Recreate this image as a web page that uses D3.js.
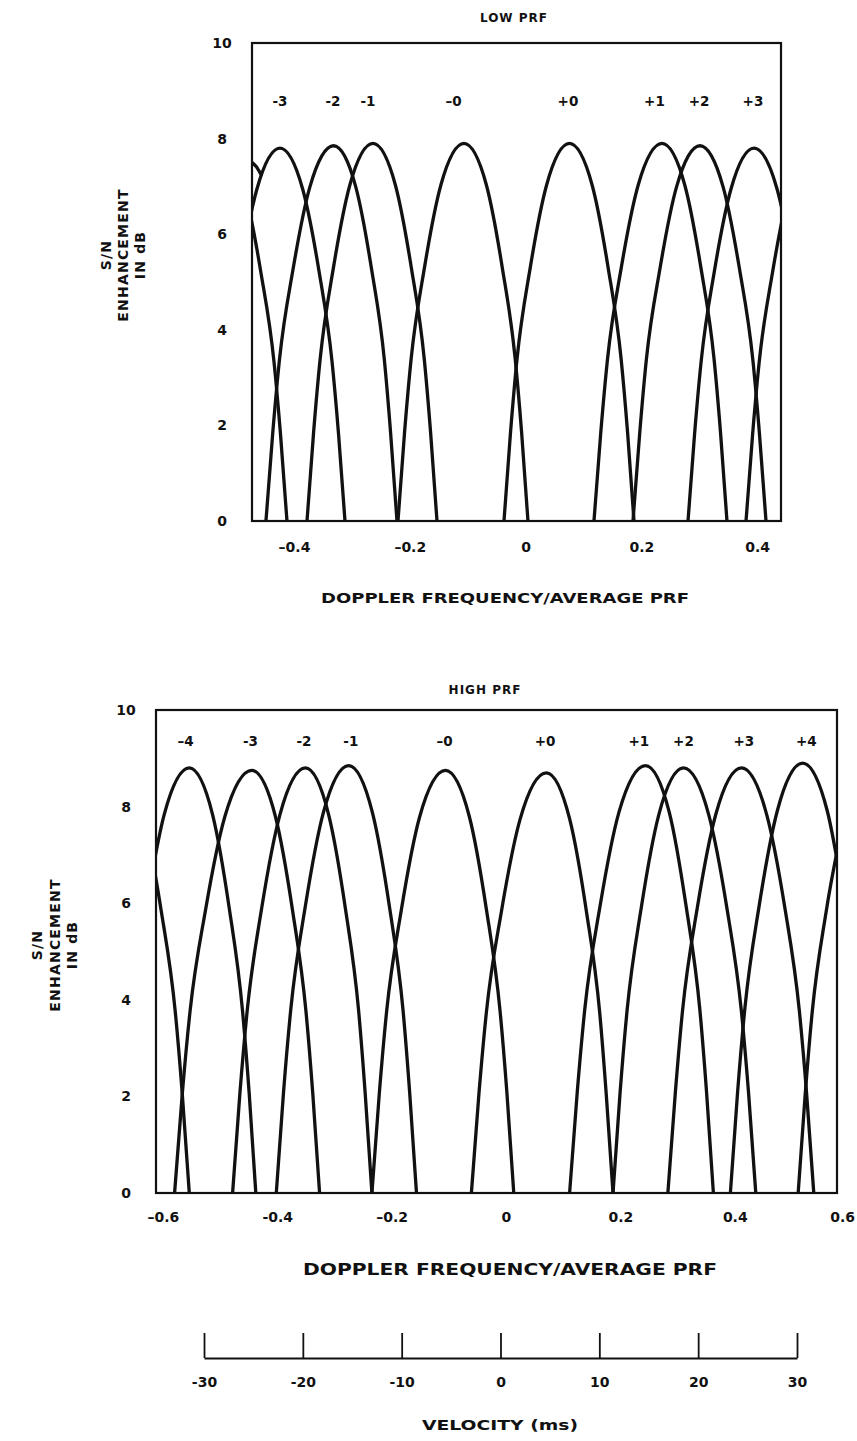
<!DOCTYPE html>
<html><head><meta charset="utf-8">
<script src="https://cdn.jsdelivr.net/npm/d3@7"></script>
<style>
html,body{margin:0;padding:0;background:#fff;}
svg{display:block;}
text{font-family:"DejaVu Sans","Liberation Sans",sans-serif;font-weight:bold;fill:#111;}
</style></head><body>
<svg id="chart" width="857" height="1441"></svg>
<script>
// ---------- DATA ----------
const yTicks = [0, 2, 4, 6, 8, 10];
const yTickLabels = ["0", "2", "4", "6", "8", "10"];

// LOW PRF panel
const lowXDomain = [-0.4725, 0.4411];
const lowTicks = [-0.4, -0.2, 0, 0.2, 0.4];
const lowTickLabels = ["\u20130.4", "\u20130.2", "0", "0.2", "0.4"];
const lowLobeNames = ["-3", "-2", "-1", "\u20130", "+0", "+1", "+2", "+3"];
const lowLobeLabelX = [-0.4242, -0.3326, -0.2722, -0.1245, 0.0732, 0.2226, 0.2995, 0.3927];
const lowLobeX = [
  [-0.5637, -0.5244, -0.4851, -0.4570, -0.4345, -0.4233, -0.4121],
  [-0.5154, -0.4926, -0.4641, -0.4242, -0.3849, -0.3568, -0.3344, -0.3231, -0.3119],
  [-0.4484, -0.4367, -0.4250, -0.4017, -0.3725, -0.3316, -0.2933, -0.2659, -0.2440, -0.2331, -0.2221],
  [-0.3775, -0.3661, -0.3547, -0.3320, -0.3035, -0.2636, -0.2249, -0.1972, -0.1751, -0.1641, -0.1530],
  [-0.2204, -0.2090, -0.1976, -0.1748, -0.1463, -0.1064, -0.0677, -0.0401, -0.0180, -0.0069, 0.0041],
  [-0.0373, -0.0260, -0.0147, 0.0079, 0.0363, 0.0758, 0.1149, 0.1427, 0.1649, 0.1761, 0.1872],
  [0.1181, 0.1299, 0.1416, 0.1651, 0.1945, 0.2356, 0.2749, 0.3029, 0.3254, 0.3366, 0.3478],
  [0.1855, 0.1971, 0.2086, 0.2318, 0.2607, 0.3012, 0.3411, 0.3696, 0.3924, 0.4038, 0.4152],
  [0.2805, 0.2919, 0.3033, 0.3261, 0.3546, 0.3945, 0.4344, 0.4629, 0.4857],
  [0.3807, 0.3921, 0.4035, 0.4263, 0.4547, 0.4946, 0.5345],
  [-0.4725, -0.4656, -0.4570]
];
const lowLobeDb = [
  [6.90, 7.75, 6.90, 5.19, 3.33, 1.82, 0],
  [3.35, 5.23, 6.94, 7.80, 6.94, 5.23, 3.35, 1.83, 0],
  [0, 1.84, 3.38, 5.26, 6.99, 7.85, 6.99, 5.26, 3.38, 1.84, 0],
  [0, 1.86, 3.40, 5.29, 7.03, 7.90, 7.03, 5.29, 3.40, 1.86, 0],
  [0, 1.86, 3.40, 5.29, 7.03, 7.90, 7.03, 5.29, 3.40, 1.86, 0],
  [0, 1.86, 3.40, 5.29, 7.03, 7.90, 7.03, 5.29, 3.40, 1.86, 0],
  [0, 1.86, 3.40, 5.29, 7.03, 7.90, 7.03, 5.29, 3.40, 1.86, 0],
  [0, 1.84, 3.38, 5.26, 6.99, 7.85, 6.99, 5.26, 3.38, 1.84, 0],
  [0, 1.83, 3.35, 5.23, 6.94, 7.80, 6.94, 5.23, 3.35],
  [0, 1.82, 3.33, 5.19, 6.90, 7.75, 6.90],
  [7.50, 7.42, 7.25]
];

// HIGH PRF panel
const highXDomain = [-0.6119, 0.5787];
const highTicks = [-0.6, -0.4, -0.2, 0, 0.2, 0.4, 0.6];
const highTickLabels = ["\u20130.6", "-0.4", "\u20130.2", "0", "0.2", "0.4", "0.6"];
const highLobeNames = ["\u20134", "-3", "-2", "-1", "\u20130", "+0", "+1", "+2", "+3", "+4"];
const highLobeLabelX = [-0.5600, -0.4469, -0.3531, -0.2712, -0.1073, 0.0682, 0.2322, 0.3103, 0.4157, 0.5250];
const highLobeX = [
  [-0.6760, -0.6332, -0.6026, -0.5781, -0.5659, -0.5537],
  [-0.6292, -0.5977, -0.5537, -0.5129, -0.4839, -0.4607, -0.4490, -0.4374],
  [-0.5794, -0.5659, -0.5524, -0.5253, -0.4916, -0.4444, -0.4030, -0.3733, -0.3497, -0.3378, -0.3259],
  [-0.4780, -0.4652, -0.4524, -0.4271, -0.3953, -0.3507, -0.3100, -0.2809, -0.2577, -0.2462, -0.2344],
  [-0.4016, -0.3890, -0.3762, -0.3509, -0.3192, -0.2750, -0.2336, -0.2038, -0.1802, -0.1684, -0.1565],
  [-0.2344, -0.2215, -0.2087, -0.1830, -0.1509, -0.1058, -0.0640, -0.0341, -0.0103, 0.0017, 0.0136],
  [-0.0605, -0.0474, -0.0343, -0.0080, 0.0247, 0.0706, 0.1114, 0.1406, 0.1638, 0.1753, 0.1871],
  [0.1112, 0.1245, 0.1378, 0.1643, 0.1974, 0.2439, 0.2855, 0.3150, 0.3388, 0.3507, 0.3626],
  [0.1871, 0.1994, 0.2117, 0.2364, 0.2671, 0.3103, 0.3545, 0.3862, 0.4114, 0.4241, 0.4367],
  [0.2830, 0.2960, 0.3087, 0.3344, 0.3666, 0.4117, 0.4559, 0.4876, 0.5128, 0.5255, 0.5381],
  [0.3923, 0.4049, 0.4177, 0.4428, 0.4745, 0.5187, 0.5615, 0.5921],
  [0.5108, 0.5231, 0.5353, 0.5598, 0.5904]
];
const highLobeDb = [
  [8.70, 7.74, 5.83, 3.74, 2.04, 0],
  [5.90, 7.83, 8.80, 7.83, 5.90, 3.78, 2.07, 0],
  [0, 2.06, 3.76, 5.86, 7.79, 8.75, 7.79, 5.86, 3.76, 2.06, 0],
  [0, 2.07, 3.78, 5.90, 7.83, 8.80, 7.83, 5.90, 3.78, 2.07, 0],
  [0, 2.08, 3.81, 5.93, 7.88, 8.85, 7.88, 5.93, 3.81, 2.08, 0],
  [0, 2.06, 3.76, 5.86, 7.79, 8.75, 7.79, 5.86, 3.76, 2.06, 0],
  [0, 2.04, 3.74, 5.83, 7.74, 8.70, 7.74, 5.83, 3.74, 2.04, 0],
  [0, 2.08, 3.81, 5.93, 7.88, 8.85, 7.88, 5.93, 3.81, 2.08, 0],
  [0, 2.07, 3.78, 5.90, 7.83, 8.80, 7.83, 5.90, 3.78, 2.07, 0],
  [0, 2.07, 3.78, 5.90, 7.83, 8.80, 7.83, 5.90, 3.78, 2.07, 0],
  [0, 2.09, 3.83, 5.96, 7.92, 8.90, 7.92, 5.96],
  [0, 2.04, 3.74, 5.83, 7.74]
];

// Velocity scale
const velocityTicks = [-30, -20, -10, 0, 10, 20, 30];
const velocityTickLabels = ["-30", "-20", "-10", "0", "10", "20", "30"];

// ---------- DRAW ----------
const svg = d3.select("#chart");

function panel(cfg) {
  const x = d3.scaleLinear().domain(cfg.xDomain).range(cfg.xRange);
  const y = d3.scaleLinear().domain([0, 10]).range(cfg.yRange);
  const g = svg.append("g");
  const clipId = "clip" + cfg.id;
  svg.append("defs").append("clipPath").attr("id", clipId)
    .append("rect")
    .attr("x", cfg.xRange[0]).attr("y", y(10))
    .attr("width", cfg.xRange[1] - cfg.xRange[0]).attr("height", y(0) - y(10));

  const line = d3.line().x(d => x(d[0])).y(d => y(d[1])).curve(d3.curveMonotoneX);
  const curves = g.append("g").attr("clip-path", `url(#${clipId})`);
  cfg.lobeX.forEach((xs, i) => {
    const pts = xs.map((v, j) => [v, cfg.lobeDb[i][j]]);
    curves.append("path").attr("d", line(pts))
      .attr("fill", "none").attr("stroke", "#111").attr("stroke-width", 3.3)
      .attr("stroke-linejoin", "round").attr("stroke-linecap", "round");
  });

  // frame
  g.append("rect")
    .attr("x", cfg.xRange[0]).attr("y", y(10))
    .attr("width", cfg.xRange[1] - cfg.xRange[0]).attr("height", y(0) - y(10))
    .attr("fill", "none").attr("stroke", "#111").attr("stroke-width", 2.2);

  // y axis labels
  const ya = g.append("g").attr("transform", `translate(${cfg.xRange[0]},0)`)
    .call(d3.axisLeft(y).tickValues(yTicks).tickSize(0)
      .tickFormat((d, i) => yTickLabels[i]));
  ya.select(".domain").remove();
  ya.selectAll("text").attr("x", -30).attr("text-anchor", "middle")
    .style("font-size", "14px").style("font-family", null);

  // x axis labels
  const xa = g.append("g").attr("transform", `translate(0,${y(0)})`)
    .call(d3.axisBottom(x).tickValues(cfg.ticks).tickSize(0).tickPadding(cfg.tickPad)
      .tickFormat((d, i) => cfg.tickLabels[i]));
  xa.select(".domain").remove();
  xa.selectAll("text").style("font-size", "14px").style("font-family", null);
  if (cfg.lastLabelDx) {
    xa.selectAll(".tick").filter((d, i, n) => i === n.length - 1)
      .select("text").attr("dx", cfg.lastLabelDx);
  }

  // lobe labels
  g.selectAll(".lobelab").data(cfg.lobeNames).enter().append("text")
    .attr("x", (d, i) => x(cfg.lobeLabelX[i]))
    .attr("y", cfg.lobeLabelY)
    .attr("text-anchor", "middle").attr("dominant-baseline", "central")
    .style("font-size", "13.5px").text(d => d);

  // panel title
  g.append("text").attr("x", cfg.titleX).attr("y", cfg.titleY)
    .attr("text-anchor", "middle").attr("dominant-baseline", "central")
    .style("font-size", "12px").style("font-weight", "600").style("letter-spacing", "1px")
    .text(cfg.title);

  // x title
  g.append("text").attr("x", cfg.xTitleX).attr("y", cfg.xTitleY)
    .attr("text-anchor", "middle").attr("dominant-baseline", "central")
    .attr("textLength", cfg.xTitleLen).attr("lengthAdjust", "spacingAndGlyphs")
    .style("font-size", cfg.xTitleSize + "px")
    .text("DOPPLER FREQUENCY/AVERAGE PRF");

  // y title (three rotated lines)
  const yLines = ["S/N", "ENHANCEMENT", "IN dB"];
  yLines.forEach((t, i) => {
    g.append("text")
      .attr("transform", `translate(${cfg.yTitleX[i]},${cfg.yTitleY}) rotate(-90)`)
      .attr("text-anchor", "middle").attr("dominant-baseline", "central")
      .style("font-size", "14px").style("letter-spacing", "1.2px")
      .text(t);
  });
  return {x, y};
}

panel({
  id: "low", xDomain: lowXDomain, xRange: [252, 781], yRange: [521, 43],
  ticks: lowTicks, tickLabels: lowTickLabels, tickPad: 21,
  lobeX: lowLobeX, lobeDb: lowLobeDb, lobeNames: lowLobeNames, lobeLabelX: lowLobeLabelX,
  lobeLabelY: 101, title: "LOW PRF", titleX: 514, titleY: 18,
  xTitleX: 505, xTitleY: 598, xTitleLen: 368, xTitleSize: 14,
  yTitleX: [106, 123, 140], yTitleY: 255
});

panel({
  id: "high", xDomain: highXDomain, xRange: [156, 837], yRange: [1193, 710],
  ticks: highTicks, tickLabels: highTickLabels, tickPad: 19, lastLabelDx: -7,
  lobeX: highLobeX, lobeDb: highLobeDb, lobeNames: highLobeNames, lobeLabelX: highLobeLabelX,
  lobeLabelY: 741, title: "HIGH PRF", titleX: 485, titleY: 690,
  xTitleX: 510, xTitleY: 1270, xTitleLen: 414, xTitleSize: 15,
  yTitleX: [37, 55, 72], yTitleY: 945
});

// velocity axis
const vx = d3.scaleLinear().domain([-30, 30]).range([204, 797]);
const va = svg.append("g").attr("transform", "translate(0,1358)")
  .call(d3.axisBottom(vx).tickValues(velocityTicks).tickSizeInner(-25).tickSizeOuter(0)
    .tickPadding(19).tickFormat((d, i) => velocityTickLabels[i]));
va.select(".domain").attr("stroke", "#111").attr("stroke-width", 2.2);
va.selectAll(".tick line").attr("stroke", "#111").attr("stroke-width", 1.8);
va.selectAll("text").style("font-size", "14px").style("font-family", null);
svg.append("text").attr("x", 500).attr("y", 1425)
  .attr("text-anchor", "middle").attr("dominant-baseline", "central")
  .attr("textLength", 156).attr("lengthAdjust", "spacingAndGlyphs")
  .style("font-size", "14px").text("VELOCITY (ms)");
</script>
</body></html>
